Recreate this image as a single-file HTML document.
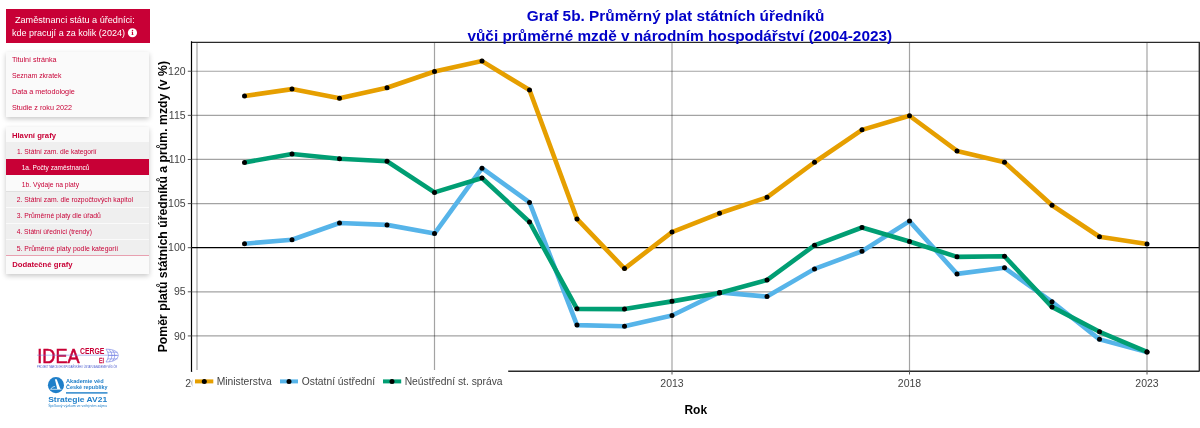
<!DOCTYPE html>
<html lang="cs"><head><meta charset="utf-8"><title>Graf 5b</title>
<style>
html,body{margin:0;padding:0;background:#fff;width:1200px;height:428px;overflow:hidden;position:relative}
.box{position:absolute}
#hdr{left:5.5px;top:9px;width:144.3px;height:33.5px;background:#c80036}
#p1{left:6px;top:51.5px;width:143.2px;height:65.3px;background:#fafafa;box-shadow:0 2px 5px rgba(0,0,0,.22)}
#p2{left:6px;top:126.6px;width:143px;height:147.9px;background:#fafafa;box-shadow:0 2px 5px rgba(0,0,0,.22)}
.row{position:absolute;left:0;width:100%}
svg{position:absolute;left:0;top:0;will-change:transform}
.g{stroke:rgba(0,0,0,0.36);stroke-width:1.2}
.tk{font-family:"Liberation Sans",Arial,sans-serif;font-size:10.5px;fill:#444}
.lg{font-family:"Liberation Sans",Arial,sans-serif;font-size:10.3px;fill:#444}
.ax{font-family:"Liberation Sans",Arial,sans-serif;font-size:12.25px;font-weight:bold;fill:#000}
.tt{font-family:"Liberation Sans",Arial,sans-serif;font-size:15.35px;font-weight:bold;fill:#0000c8}
.hd{font-family:"Liberation Sans",Arial,sans-serif;font-size:9.2px;fill:#fff}
.p1{font-family:"Liberation Sans",Arial,sans-serif;font-size:7.6px;fill:#c80036}
.p2{font-family:"Liberation Sans",Arial,sans-serif;font-size:7.2px;fill:#c80036}
.pb{font-family:"Liberation Sans",Arial,sans-serif;font-size:8.0px;font-weight:bold;fill:#c80036}
</style></head>
<body>
<div class="box" id="hdr"></div>
<div class="box" id="p1"></div>
<div class="box" id="p2">
  <div class="row" style="top:15.9px;height:0;border-top:1px solid #e2e2e2"></div>
  <div class="row" style="top:15.9px;height:16.3px;background:#efefef"></div>
  <div class="row" style="top:32.2px;height:16.1px;background:#c80036"></div>
  <div class="row" style="top:48.3px;height:16.5px;background:#fafafa"></div>
  <div class="row" style="top:64.8px;height:64px;background:#efefef"></div>
  <div class="row" style="top:64.6px;height:0;border-top:1px solid #e0e0e0"></div>
  <div class="row" style="top:80.5px;height:0;border-top:1px solid #fafafa"></div>
  <div class="row" style="top:96.7px;height:0;border-top:1px solid #fafafa"></div>
  <div class="row" style="top:112.7px;height:0;border-top:1px solid #fafafa"></div>
  <div class="row" style="top:128.6px;height:0;border-top:1px solid #e8a0b0"></div>
</div>
<svg width="1200" height="428" viewBox="0 0 1200 428">
<text x="14.9" y="23.1" class="hd" textLength="119.8" lengthAdjust="spacingAndGlyphs">Zaměstnanci státu a úředníci:</text>
<text x="11.9" y="36.4" class="hd" textLength="113.1" lengthAdjust="spacingAndGlyphs">kde pracují a za kolik (2024)</text>
<circle cx="132.45" cy="32.75" r="4.6" fill="#fff"/>
<g fill="#c80036"><circle cx="132.5" cy="30.6" r="0.75"/><rect x="131.95" y="31.8" width="1.1" height="3.0"/><rect x="131.5" y="34.3" width="2" height="0.6"/><rect x="131.5" y="31.8" width="1" height="0.5"/></g>
<text x="11.9" y="62.2" class="p1" textLength="44.6" lengthAdjust="spacingAndGlyphs">Titulní stránka</text>
<text x="11.9" y="78.4" class="p1" textLength="49.5" lengthAdjust="spacingAndGlyphs">Seznam zkratek</text>
<text x="11.9" y="94.1" class="p1" textLength="62.9" lengthAdjust="spacingAndGlyphs">Data a metodologie</text>
<text x="11.9" y="109.8" class="p1" textLength="60.1" lengthAdjust="spacingAndGlyphs">Studie z roku 2022</text>
<text x="11.9" y="137.7" class="pb" textLength="44.1" lengthAdjust="spacingAndGlyphs">Hlavní grafy</text>
<text x="16.9" y="154.1" class="p2" textLength="79.7" lengthAdjust="spacingAndGlyphs">1. Státní zam. dle kategorií</text>
<text x="21.7" y="170.2" class="p2" textLength="67.7" lengthAdjust="spacingAndGlyphs" style="fill:#fff">1a. Počty zaměstnanců</text>
<text x="21.7" y="186.5" class="p2" textLength="57.4" lengthAdjust="spacingAndGlyphs">1b. Výdaje na platy</text>
<text x="16.7" y="201.8" class="p2" textLength="116.3" lengthAdjust="spacingAndGlyphs">2. Státní zam. dle rozpočtových kapitol</text>
<text x="16.7" y="218.0" class="p2" textLength="84.1" lengthAdjust="spacingAndGlyphs">3. Průměrné platy dle úřadů</text>
<text x="16.7" y="234.0" class="p2" textLength="75.2" lengthAdjust="spacingAndGlyphs">4. Státní úředníci (trendy)</text>
<text x="16.7" y="250.8" class="p2" textLength="101.4" lengthAdjust="spacingAndGlyphs">5. Průměrné platy podle kategorií</text>
<text x="12.2" y="267.2" class="pb" textLength="60.4" lengthAdjust="spacingAndGlyphs">Dodatečné grafy</text>
<text x="37.3" y="363" font-family="Liberation Sans" font-size="21" fill="#c80036" stroke="#c80036" stroke-width="0.55" textLength="42.3" lengthAdjust="spacingAndGlyphs">IDEA</text>
<line x1="37" x2="117" y1="355.2" y2="355.2" stroke="#6b7fe0" stroke-width="0.5"/>
<text x="80" y="354.3" font-family="Liberation Sans" font-weight="bold" font-size="8.3" fill="#c80036" textLength="24.4" lengthAdjust="spacingAndGlyphs">CERGE</text>
<text x="98.9" y="363" font-family="Liberation Sans" font-size="7.3" fill="#c80036" stroke="#c80036" stroke-width="0.3" textLength="5.1" lengthAdjust="spacingAndGlyphs">EI</text>
<g fill="none" stroke="#6270e0" stroke-width="0.55"><path d="M106,349.2 C114,349 118.4,352 118.2,355.5 C118,359 114,362 106,362"/><path d="M106,349.2 Q111,355.5 106,362"/><path d="M109,349.4 Q115,355.5 109,361.8"/><path d="M112.5,350.1 Q117,355.5 112.5,361.2"/><line x1="107.5" x2="117.5" y1="352.2" y2="352.2"/><line x1="108.5" x2="118.2" y1="355.5" y2="355.5"/><line x1="107.5" x2="117.5" y1="358.9" y2="358.9"/></g>
<text x="37" y="368" font-family="Liberation Sans" font-size="2.6" fill="#4455cc" textLength="80" lengthAdjust="spacingAndGlyphs">PROJEKT NÁRODOHOSPODÁŘSKÉHO ÚSTAVU AKADEMIE VĚD ČR</text>
<circle cx="55.95" cy="385.15" r="8.05" fill="#1f7fc9"/>
<g fill="#fff"><path d="M54.9,379.2 L56.7,379.2 L60.4,388.9 L57.2,388.9 Z"/></g><path d="M50.3,389.3 L61.5,389.3 M50.8,389.1 Q52,386.6 54.9,386.4" fill="none" stroke="#fff" stroke-width="0.7"/>
<text x="66" y="383.1" font-family="Liberation Sans" font-weight="bold" font-size="5.4" fill="#1f7fc9" textLength="37.6" lengthAdjust="spacingAndGlyphs">Akademie věd</text>
<text x="66" y="389.2" font-family="Liberation Sans" font-weight="bold" font-size="5.4" fill="#1f7fc9" textLength="41.5" lengthAdjust="spacingAndGlyphs">České republiky</text>
<rect x="66" y="392.2" width="41.5" height="1.4" fill="#1f7fc9"/>
<text x="48.2" y="402.3" font-family="Liberation Sans" font-weight="bold" font-size="8" fill="#1f7fc9" textLength="59" lengthAdjust="spacingAndGlyphs">Strategie AV21</text>
<text x="48.2" y="406.8" font-family="Liberation Sans" font-size="3.3" fill="#1f7fc9" textLength="58.8" lengthAdjust="spacingAndGlyphs">Špičkový výzkum ve veřejném zájmu</text>
<line x1="191.5" x2="1199.0" y1="71.24" y2="71.24" class="g"/>
<line x1="191.5" x2="1199.0" y1="115.35" y2="115.35" class="g"/>
<line x1="191.5" x2="1199.0" y1="159.47" y2="159.47" class="g"/>
<line x1="191.5" x2="1199.0" y1="203.58" y2="203.58" class="g"/>
<line x1="191.5" x2="1199.0" y1="291.81" y2="291.81" class="g"/>
<line x1="191.5" x2="1199.0" y1="335.93" y2="335.93" class="g"/>
<line x1="197.00" x2="197.00" y1="42.0" y2="371.0" class="g"/>
<line x1="434.50" x2="434.50" y1="42.0" y2="371.0" class="g"/>
<line x1="672.00" x2="672.00" y1="42.0" y2="371.0" class="g"/>
<line x1="909.50" x2="909.50" y1="42.0" y2="371.0" class="g"/>
<line x1="1147.00" x2="1147.00" y1="42.0" y2="371.0" class="g"/>
<line x1="191.5" x2="1199.0" y1="247.70" y2="247.70" stroke="#000" stroke-width="1.2"/>
<polyline points="244.50,96.05 292.00,89.10 339.50,98.25 387.00,87.78 434.50,71.50 482.00,61.12 529.50,90.07 577.00,218.90 624.50,268.62 672.00,232.10 719.50,213.27 767.00,197.34 814.50,162.23 862.00,129.84 909.50,115.76 957.00,150.96 1004.50,162.32 1052.00,205.26 1099.50,236.76 1147.00,243.98" fill="none" stroke="#E69F00" stroke-width="4.6" stroke-linejoin="round"/>
<polyline points="244.50,243.72 292.00,239.76 339.50,223.04 387.00,224.88 434.50,233.60 482.00,168.21 529.50,202.44 577.00,325.12 624.50,326.26 672.00,315.52 719.50,292.38 767.00,296.60 814.50,268.88 862.00,251.28 909.50,221.10 957.00,273.90 1004.50,267.83 1052.00,301.80 1099.50,339.37 1147.00,351.96" fill="none" stroke="#56B4E9" stroke-width="4.6" stroke-linejoin="round"/>
<polyline points="244.50,162.40 292.00,153.96 339.50,158.80 387.00,161.26 434.50,192.41 482.00,177.98 529.50,221.98 577.00,308.84 624.50,309.10 672.00,301.36 719.50,293.00 767.00,280.06 814.50,245.30 862.00,227.52 909.50,241.52 957.00,256.83 1004.50,256.30 1052.00,306.90 1099.50,331.80 1147.00,351.96" fill="none" stroke="#009E73" stroke-width="4.6" stroke-linejoin="round"/>
<g fill="#000"><circle cx="244.50" cy="96.05" r="2.5"/><circle cx="292.00" cy="89.10" r="2.5"/><circle cx="339.50" cy="98.25" r="2.5"/><circle cx="387.00" cy="87.78" r="2.5"/><circle cx="434.50" cy="71.50" r="2.5"/><circle cx="482.00" cy="61.12" r="2.5"/><circle cx="529.50" cy="90.07" r="2.5"/><circle cx="577.00" cy="218.90" r="2.5"/><circle cx="624.50" cy="268.62" r="2.5"/><circle cx="672.00" cy="232.10" r="2.5"/><circle cx="719.50" cy="213.27" r="2.5"/><circle cx="767.00" cy="197.34" r="2.5"/><circle cx="814.50" cy="162.23" r="2.5"/><circle cx="862.00" cy="129.84" r="2.5"/><circle cx="909.50" cy="115.76" r="2.5"/><circle cx="957.00" cy="150.96" r="2.5"/><circle cx="1004.50" cy="162.32" r="2.5"/><circle cx="1052.00" cy="205.26" r="2.5"/><circle cx="1099.50" cy="236.76" r="2.5"/><circle cx="1147.00" cy="243.98" r="2.5"/><circle cx="244.50" cy="243.72" r="2.5"/><circle cx="292.00" cy="239.76" r="2.5"/><circle cx="339.50" cy="223.04" r="2.5"/><circle cx="387.00" cy="224.88" r="2.5"/><circle cx="434.50" cy="233.60" r="2.5"/><circle cx="482.00" cy="168.21" r="2.5"/><circle cx="529.50" cy="202.44" r="2.5"/><circle cx="577.00" cy="325.12" r="2.5"/><circle cx="624.50" cy="326.26" r="2.5"/><circle cx="672.00" cy="315.52" r="2.5"/><circle cx="719.50" cy="292.38" r="2.5"/><circle cx="767.00" cy="296.60" r="2.5"/><circle cx="814.50" cy="268.88" r="2.5"/><circle cx="862.00" cy="251.28" r="2.5"/><circle cx="909.50" cy="221.10" r="2.5"/><circle cx="957.00" cy="273.90" r="2.5"/><circle cx="1004.50" cy="267.83" r="2.5"/><circle cx="1052.00" cy="301.80" r="2.5"/><circle cx="1099.50" cy="339.37" r="2.5"/><circle cx="1147.00" cy="351.96" r="2.5"/><circle cx="244.50" cy="162.40" r="2.5"/><circle cx="292.00" cy="153.96" r="2.5"/><circle cx="339.50" cy="158.80" r="2.5"/><circle cx="387.00" cy="161.26" r="2.5"/><circle cx="434.50" cy="192.41" r="2.5"/><circle cx="482.00" cy="177.98" r="2.5"/><circle cx="529.50" cy="221.98" r="2.5"/><circle cx="577.00" cy="308.84" r="2.5"/><circle cx="624.50" cy="309.10" r="2.5"/><circle cx="672.00" cy="301.36" r="2.5"/><circle cx="719.50" cy="293.00" r="2.5"/><circle cx="767.00" cy="280.06" r="2.5"/><circle cx="814.50" cy="245.30" r="2.5"/><circle cx="862.00" cy="227.52" r="2.5"/><circle cx="909.50" cy="241.52" r="2.5"/><circle cx="957.00" cy="256.83" r="2.5"/><circle cx="1004.50" cy="256.30" r="2.5"/><circle cx="1052.00" cy="306.90" r="2.5"/><circle cx="1099.50" cy="331.80" r="2.5"/><circle cx="1147.00" cy="351.96" r="2.5"/></g>
<line x1="191.5" x2="1199.7" y1="42.3" y2="42.3" stroke="#2a2a2a" stroke-width="1.35"/>
<line x1="1199.3" x2="1199.3" y1="42.0" y2="371.0" stroke="#2a2a2a" stroke-width="1.35"/>
<line x1="191.5" x2="1199.7" y1="371.2" y2="371.2" stroke="#2a2a2a" stroke-width="1.35"/>
<line x1="191.5" x2="191.5" y1="41.2" y2="371.8" stroke="#000" stroke-width="1.2"/>
<line x1="187.8" x2="191.5" y1="71.24" y2="71.24" stroke="#555" stroke-width="1"/>
<text x="185.6" y="74.84" class="tk" text-anchor="end">120</text>
<line x1="187.8" x2="191.5" y1="115.35" y2="115.35" stroke="#555" stroke-width="1"/>
<text x="185.6" y="118.95" class="tk" text-anchor="end">115</text>
<line x1="187.8" x2="191.5" y1="159.47" y2="159.47" stroke="#555" stroke-width="1"/>
<text x="185.6" y="163.07" class="tk" text-anchor="end">110</text>
<line x1="187.8" x2="191.5" y1="203.58" y2="203.58" stroke="#555" stroke-width="1"/>
<text x="185.6" y="207.18" class="tk" text-anchor="end">105</text>
<line x1="187.8" x2="191.5" y1="247.70" y2="247.70" stroke="#555" stroke-width="1"/>
<text x="185.6" y="251.30" class="tk" text-anchor="end">100</text>
<line x1="187.8" x2="191.5" y1="291.81" y2="291.81" stroke="#555" stroke-width="1"/>
<text x="185.6" y="295.42" class="tk" text-anchor="end">95</text>
<line x1="187.8" x2="191.5" y1="335.93" y2="335.93" stroke="#555" stroke-width="1"/>
<text x="185.6" y="339.53" class="tk" text-anchor="end">90</text>
<line x1="197.00" x2="197.00" y1="371.0" y2="374.5" stroke="#555" stroke-width="1"/>
<text x="197.00" y="386.9" class="tk" text-anchor="middle">2003</text>
<line x1="434.50" x2="434.50" y1="371.0" y2="374.5" stroke="#555" stroke-width="1"/>
<text x="434.50" y="386.9" class="tk" text-anchor="middle">2008</text>
<line x1="672.00" x2="672.00" y1="371.0" y2="374.5" stroke="#555" stroke-width="1"/>
<text x="672.00" y="386.9" class="tk" text-anchor="middle">2013</text>
<line x1="909.50" x2="909.50" y1="371.0" y2="374.5" stroke="#555" stroke-width="1"/>
<text x="909.50" y="386.9" class="tk" text-anchor="middle">2018</text>
<line x1="1147.00" x2="1147.00" y1="371.0" y2="374.5" stroke="#555" stroke-width="1"/>
<text x="1147.00" y="386.9" class="tk" text-anchor="middle">2023</text>
<rect x="192.2" y="370.0" width="316" height="22" fill="#fff"/>
<line x1="195" x2="213.3" y1="381.4" y2="381.4" stroke="#E69F00" stroke-width="4"/>
<circle cx="204.3" cy="381.4" r="2.5" fill="#000"/>
<text x="216.7" y="384.8" class="lg">Ministerstva</text>
<line x1="280" x2="298" y1="381.4" y2="381.4" stroke="#56B4E9" stroke-width="4"/>
<circle cx="289" cy="381.4" r="2.5" fill="#000"/>
<text x="301.8" y="384.8" class="lg">Ostatní ústřední</text>
<line x1="383" x2="401.2" y1="381.4" y2="381.4" stroke="#009E73" stroke-width="4"/>
<circle cx="392" cy="381.4" r="2.5" fill="#000"/>
<text x="404.7" y="384.8" class="lg">Neústřední st. správa</text>
<text x="695.8" y="413.7" class="ax" style="font-size:12px" text-anchor="middle">Rok</text>
<text transform="translate(167.2,206.7) rotate(-90)" class="ax" text-anchor="middle">Poměr platů státních úředníků a prům. mzdy (v %)</text>
<text x="675.6" y="21.4" class="tt" text-anchor="middle">Graf 5b. Průměrný plat státních úředníků</text>
<text x="679.8" y="40.9" class="tt" text-anchor="middle">vůči průměrné mzdě v národním hospodářství (2004-2023)</text>
</svg>
</body></html>
